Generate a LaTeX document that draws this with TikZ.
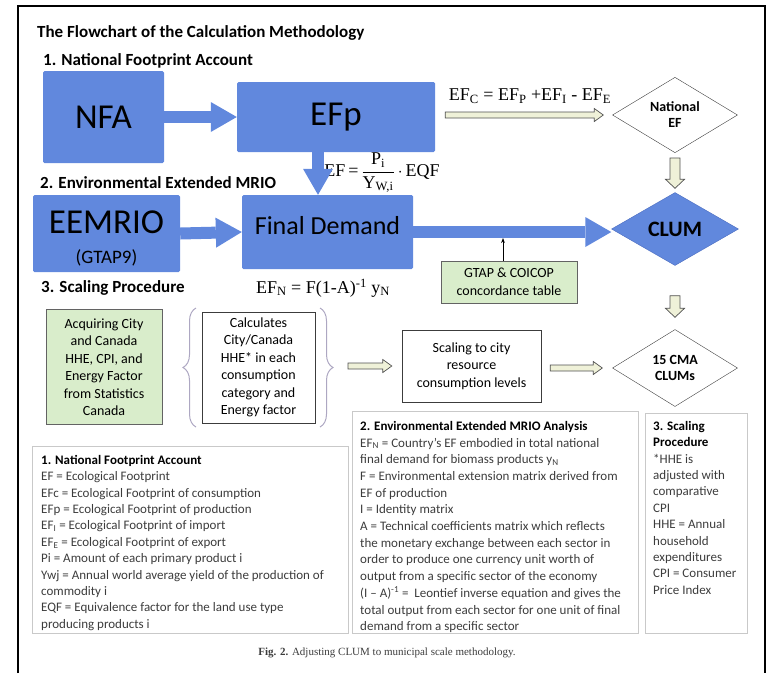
\documentclass[tikz,border=0pt]{standalone}
\usepackage{amsmath}
\usepackage{fontspec}
\setmainfont{Carlito}
\newfontfamily\tms{Liberation Serif}
\usepackage{tikz}
\usetikzlibrary{positioning,arrows.meta,shapes.geometric,calc,decorations.pathreplacing}
\definecolor{fpblue}{HTML}{6188DD}
\definecolor{fpblueedge}{HTML}{4A6CC0}
\definecolor{fpgreen}{HTML}{D9EDCB}
\definecolor{fpcream}{HTML}{EFF1D8}
\definecolor{fpgrey}{HTML}{3C3C3C}
\definecolor{fpframe}{HTML}{C9C9C9}
\definecolor{fpbrace}{HTML}{ADA7C2}

\begin{document}
\begin{tikzpicture}[x=1pt, y=-1pt,
  bluebox/.style={fill=fpblue, rounded corners=1.5pt, inner sep=0pt, align=center},
  bluearrow/.style={-{Triangle[length=26pt, width=30pt, line width=0pt]}, line width=12pt, fpblue},
  hollowright/.style={draw=fpgrey!90, fill=fpcream, line width=0.7pt, to path={
    ([yshift=3pt]\tikztostart) -- ([xshift=-9pt,yshift=3pt]\tikztotarget) -- ([xshift=-9pt,yshift=6.5pt]\tikztotarget)
    -- (\tikztotarget) -- ([xshift=-9pt,yshift=-6.5pt]\tikztotarget) -- ([xshift=-9pt,yshift=-3pt]\tikztotarget)
    -- ([yshift=-3pt]\tikztostart) -- cycle}},
  hollowdown/.style={draw=fpgrey!90, fill=fpcream, line width=0.7pt, to path={
    ([xshift=-5pt]\tikztostart) -- ([xshift=-5pt,yshift=9pt]\tikztotarget) -- ([xshift=-9.5pt,yshift=9pt]\tikztotarget)
    -- (\tikztotarget) -- ([xshift=9.5pt,yshift=9pt]\tikztotarget) -- ([xshift=5pt,yshift=9pt]\tikztotarget)
    -- ([xshift=5pt]\tikztostart) -- cycle}},
  diam/.style={diamond, draw=fpgrey, inner sep=0pt, align=center, font=\bfseries\fontsize{14}{16}\selectfont},
  greenbox/.style={draw=fpgrey!80, fill=fpgreen, inner sep=0pt, align=center, font=\fontsize{14}{18}\selectfont},
  whitebox/.style={draw=fpgrey, inner sep=0pt, align=center, font=\fontsize{14}{17.5}\selectfont},
  legendbox/.style={draw=fpframe, line width=1pt, anchor=north west, inner sep=0pt},
  legendtext/.style={anchor=north west, inner sep=0pt, align=left, text=fpgrey, font=\fontsize{13}{16.4}\selectfont},
  sectitle/.style={anchor=west, inner sep=0pt, font=\bfseries\fontsize{17}{19}\selectfont},
  formula/.style={inner sep=0pt, font=\tms\fontsize{18}{20}\selectfont}]
  \useasboundingbox (0,0) rectangle (767,673);
  \draw[line width=1.5pt] (18,673) -- (18,6) -- (765,6) -- (765,673);

  % headings
  \node[sectitle] (title) at (37,33) {The Flowchart of the Calculation Methodology};
  \node[sectitle] (sec1) at (43,61) {1. National Footprint Account};
  \node[sectitle] (sec2) at (40,183) {2. Environmental Extended MRIO};
  \node[sectitle] (sec3) at (41,288) {3. Scaling Procedure};

  % 1. National Footprint Account
  \node[bluebox, minimum width=121pt, minimum height=92pt, font=\fontsize{35}{40}\selectfont] (nfa) at (103.5,117) {NFA};
  \node[bluebox, minimum width=198pt, minimum height=70pt, font=\fontsize{35}{40}\selectfont] (efp) at (336,117) {EFp};
  \node[diam, minimum width=125pt, minimum height=75pt] (natef) at (675,115) {National\\EF};
  \node[formula] (efc) at (530,96) {EF\textsubscript{C} = EF\textsubscript{P} +EF\textsubscript{I} - EF\textsubscript{E}};
  \node[formula] (efeq) at (382,173) {EF\,=\,$\dfrac{\text{P}_{\text{i}}}{\text{Y}_{\text{W,i}}}$\,$\cdot$\,EQF};

  % 2. Environmental Extended MRIO
  \node[bluebox, minimum width=147pt, minimum height=77pt, font=\fontsize{35}{38}\selectfont] (eemrio) at (106.5,233.5) {\rule{0pt}{33pt}EEMRIO\\[-8pt]{\fontsize{19}{22}\selectfont(GTAP9)}};
  \node[bluebox, minimum width=171pt, minimum height=74pt, font=\fontsize{26}{30}\selectfont] (fd) at (327.5,232) {Final Demand\rule[-14pt]{0pt}{0pt}};
  \node[diam, fill=fpblue, draw=fpblueedge, minimum width=127pt, minimum height=73pt, font=\bfseries\fontsize{22}{24}\selectfont] (clum) at (675,229) {CLUM};
  \node[greenbox, minimum width=136pt, minimum height=42pt] (gtap) at (509,282) {GTAP \& COICOP\\concordance table};
  \node[formula] (efn) at (323,288) {EF\textsubscript{N} = F(1-A)\textsuperscript{-1} y\textsubscript{N}};
  \coordinate (fdshaft) at (503,238);

  % 3. Scaling Procedure
  \node[greenbox, minimum width=116pt, minimum height=115pt, font=\fontsize{14}{17.5}\selectfont] (acq) at (104,367) {Acquiring City\\and Canada\\HHE, CPI, and\\Energy Factor\\from Statistics\\Canada};
  \node[whitebox, minimum width=113pt, minimum height=111pt] (calc) at (258.5,367.5) {Calculates\\City/Canada\\HHE* in each\\consumption\\category and\\Energy factor};
  \node[whitebox, minimum width=139pt, minimum height=72pt] (scale) at (471.5,366) {Scaling to city\\resource\\consumption\ levels};
  \node[diam, minimum width=125pt, minimum height=77pt] (cma) at (675,368) {15 CMA\\CLUMs};
  \draw[fpbrace, line width=1pt, decorate, decoration={brace, amplitude=13pt}] (196,427) -- (196,308);
  \draw[fpbrace, line width=1pt, decorate, decoration={brace, amplitude=13pt}] (320,308) -- (320,427);
  \coordinate (rbrace) at (334,366);

  % connectors
  \draw[bluearrow] (nfa.east) -- (efp.west);
  \draw[bluearrow] ([xshift=-18pt]efp.south) -- ([xshift=-18pt]efp.south |- fd.north);
  \draw[bluearrow] (eemrio.east) -- (fd.west);
  \draw[bluearrow] (fd.east) -- (fd.east -| clum.west);
  \draw[hollowright] ($(efp.east |- natef.west)+(10,0)$) to ($(natef.west)+(-9,0)$);
  \draw[hollowdown] ($(natef.south)+(0,5)$) to ($(clum.north)+(0,-4)$);
  \draw[hollowdown] ($(clum.south)+(0,30)$) to ($(cma.north)+(0,-12)$);
  \draw[-{Stealth[length=5pt]}, line width=0.8pt] ([xshift=-6pt]gtap.north) -- (fdshaft);
  \draw[hollowright] ($(rbrace)+(14,0)$) to ($(scale.west)+(-10,0)$);
  \draw[hollowright] ($(scale.east |- cma.west)+(9,0)$) to ($(cma.west)+(-10,0)$);

  % legends
  \node[legendbox, minimum width=316pt, minimum height=187pt] (leg1) at (32,446) {};
  \node[legendtext] (leg1txt) at ([xshift=9pt, yshift=-9pt]leg1.north west) {{\color{black}\textbf{1. National Footprint Account}}\\
    EF = Ecological Footprint\\
    EFc = Ecological Footprint of consumption\\
    EFp = Ecological Footprint of production\\
    EF\textsubscript{I} = Ecological Footprint of import\\
    EF\textsubscript{E} = Ecological Footprint of export\\
    Pi = Amount of each primary product i\\
    Ywj = Annual world average yield of the production of\\
    commodity i\\
    EQF = Equivalence factor  for the land use type\\
    producing products i};
  \node[legendbox, minimum width=286pt, minimum height=222pt] (leg2) at (352,411) {};
  \node[legendtext, font=\fontsize{13}{16.7}\selectfont] (leg2txt) at ([xshift=8pt, yshift=-10pt]leg2.north west) {{\color{black}\textbf{2. Environmental Extended MRIO Analysis}}\\
    EF\textsubscript{N} = Country's EF embodied in total national\\
    final demand for biomass products y\textsubscript{N}\\
    F = Environmental extension matrix derived from\\
    EF of production\\
    I = Identity matrix\\
    A = Technical coefficients matrix which reflects\\
    the monetary exchange between each sector in\\
    order to produce one currency unit worth of\\
    output from a specific sector of the economy\\
    (I -- A)\textsuperscript{-1} =\ \ Leontief inverse equation and gives the\\
    total output from each sector for one unit of final\\
    demand from a specific sector};
  \node[legendbox, minimum width=102pt, minimum height=220pt] (leg3) at (645,413) {};
  \node[legendtext] (leg3txt) at ([xshift=8pt, yshift=-8pt]leg3.north west) {{\color{black}\textbf{3. Scaling}}\\
    {\color{black}\textbf{Procedure}}\\
    *HHE is\\
    adjusted with\\
    comparative\\
    CPI\\
    HHE = Annual\\
    household\\
    expenditures\\
    CPI = Consumer\\
    Price Index};

  \node[inner sep=0pt, text=fpgrey, font=\tms\fontsize{11}{13}\selectfont] (caption) at (387,653) {\textbf{Fig. 2.} Adjusting CLUM to municipal scale methodology.};
\end{tikzpicture}
\end{document}
